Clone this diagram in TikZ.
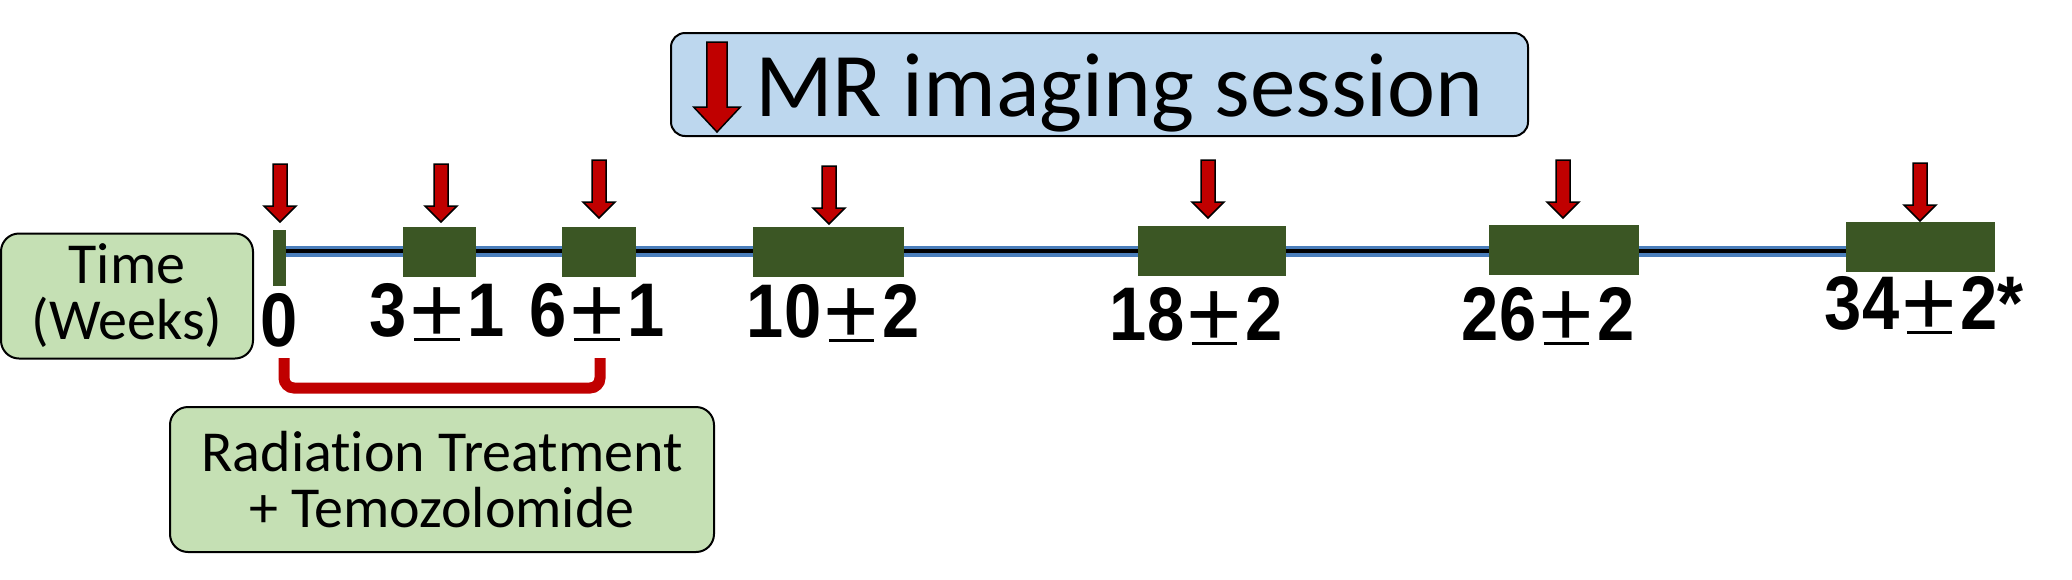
\documentclass[tikz,border=0pt]{standalone}
\usepackage{fontspec}
\setmainfont{Carlito}[Ligatures=NoCommon]
\newfontfamily\numfont[FakeStretch=0.88]{Liberation Sans}
\newfontfamily\plusfont{Liberation Sans}
\definecolor{mrred}{HTML}{C00000}
\definecolor{dgreen}{HTML}{3B5624}
\definecolor{lgreen}{HTML}{C5E0B4}
\definecolor{lblue}{HTML}{BDD7EE}
\definecolor{tlblue}{HTML}{4A7EBB}
\newcommand\pmu{{\plusfont\mdseries\hspace{0.1em}\rlap{\rule[-0.07em]{0.6em}{0.05em}}\makebox[0.6em]{\raisebox{-0.08em}{\scalebox{1.25}{+}}}\hspace{0.1em}}}
\begin{document}
\begin{tikzpicture}[x=1pt,y=-1pt,
  every node/.style={inner sep=0pt, outer sep=0pt},
  rbox/.style={draw=black, line width=2pt, rounded corners=18pt},
  gbar/.style={fill=dgreen, draw=none},
  numlabel/.style={anchor=base, font=\numfont\bfseries\fontsize{76}{80}\selectfont},
  boxtext/.style={font=\fontsize{58}{56}\selectfont, align=center},
  arrowstyle/.style={fill=mrred, draw=black, line width=1.5pt, line join=miter},
  mrarrow/.pic={\path[arrowstyle] (0,0) -- (-16,-16) -- (-7,-16) -- (-7,-58) -- (7,-58) -- (7,-16) -- (16,-16) -- cycle;}
]
\useasboundingbox (0,0) rectangle (2072,579);

% legend box
\node[rbox, fill=lblue, minimum width=857pt, minimum height=103pt, rounded corners=14pt] (mrbox) at (1099.5,84.5) {};
\pic[xscale=1.45, yscale=1.55] at (717,132) {mrarrow};
\node[anchor=base west, font=\fontsize{91}{95}\selectfont] (mrtext) at (755,116) {MR imaging session};

% time box
\node[rbox, fill=lgreen, boxtext, minimum width=252pt, minimum height=125pt] (time) at (127,296) {Time\\(Weeks)};

% timeline
\node[gbar, minimum width=13pt, minimum height=56pt] (tick) at (279.5,258) {};
\node[gbar, minimum width=73pt, minimum height=50pt] (b3) at (439.5,252) {};
\node[gbar, minimum width=74pt, minimum height=50pt] (b6) at (599,252) {};
\node[gbar, minimum width=151pt, minimum height=50pt] (b10) at (828.5,252) {};
\node[gbar, minimum width=148pt, minimum height=50pt] (b18) at (1212,251) {};
\node[gbar, minimum width=150pt, minimum height=50pt] (b26) at (1564,250) {};
\node[gbar, minimum width=149pt, minimum height=50pt] (b34) at (1920.5,247) {};
\coordinate (tl0) at (286,251);
\draw[line width=11pt, tlblue] (tl0) -- (tl0 -| b34.west);
\draw[line width=4pt, black] (tl0) -- (tl0 -| b34.west);
% redraw boxes on top of the line
\foreach \n in {b3,b6,b10,b18,b26,b34}{\fill[dgreen] (\n.south west) rectangle (\n.north east);}

% arrows
\pic at (280,222) {mrarrow};
\pic at (441,222) {mrarrow};
\pic at (599,218) {mrarrow};
\pic at (829,224) {mrarrow};
\pic at (1208,218) {mrarrow};
\pic at (1563,218) {mrarrow};
\pic at (1920,221) {mrarrow};

% labels
\node[numlabel] (l0) at (279,346) {0};
\node[numlabel] (l3) at (437,336) {3\pmu1};
\node[numlabel] (l6) at (597,336) {6\pmu1};
\node[numlabel] (l10) at (833,337) {10\pmu2};
\node[numlabel] (l18) at (1196,340) {18\pmu2};
\node[numlabel] (l26) at (1548,340) {26\pmu2};
\node[numlabel] (l34) at (1924,329) {34\pmu2*};

% bracket
\coordinate (brL) at (284,358);
\coordinate (brR) at (600,358);
\draw[mrred, line width=11pt, rounded corners=10pt] (brL) -- ++(0,30) -| (brR);

% radiation box
\node[rbox, fill=lgreen, boxtext, minimum width=544pt, minimum height=145pt] (rad) at (442,479.5) {Radiation Treatment\\+ Temozolomide};
\end{tikzpicture}
\end{document}
